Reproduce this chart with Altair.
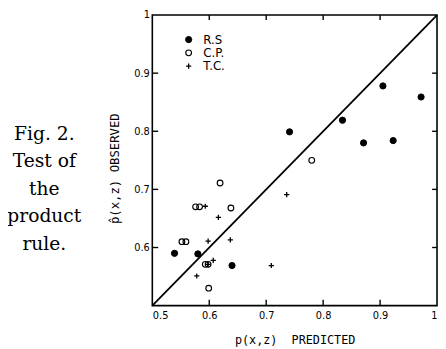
import altair as alt
import pandas as pd

# ---- data ----
series = ["R.S", "C.P.", "T.C."]

rs_x = [0.539, 0.580, 0.640, 0.741, 0.834, 0.871, 0.905, 0.923, 0.972]
rs_y = [0.590, 0.589, 0.569, 0.799, 0.819, 0.780, 0.878, 0.784, 0.859]

cp_x = [0.619, 0.576, 0.583, 0.638, 0.552, 0.559, 0.593, 0.598, 0.599, 0.780]
cp_y = [0.711, 0.670, 0.670, 0.668, 0.610, 0.610, 0.571, 0.571, 0.530, 0.750]

tc_x = [0.593, 0.616, 0.598, 0.637, 0.598, 0.607, 0.578, 0.709, 0.736]
tc_y = [0.671, 0.652, 0.611, 0.613, 0.571, 0.578, 0.551, 0.569, 0.691]

diag = [0.5, 1.0]
x_labels = [0.5, 0.6, 0.7, 0.8, 0.9, 1.0]
y_labels = [0.6, 0.7, 0.8, 0.9, 1.0]
inner_ticks = [0.6, 0.7, 0.8, 0.9]

caption = ["Fig. 2.", "Test of", "the", "product", "rule."]
x_title = "p(x,z)\u00a0 PREDICTED"
y_title = "p\u0302(x,z) OBSERVED"

# ---- tables ----
df = pd.concat([
    pd.DataFrame({"x": rs_x, "y": rs_y, "s": series[0]}),
    pd.DataFrame({"x": cp_x, "y": cp_y, "s": series[1]}),
    pd.DataFrame({"x": tc_x, "y": tc_y, "s": series[2]}),
], ignore_index=True)
df_diag = pd.DataFrame({"x": diag, "y": diag})
df_xt = pd.DataFrame({"x": inner_ticks})
df_yt = pd.DataFrame({"y": inner_ticks})
df_one = pd.DataFrame({"a": [1]})

W, H = 290, 296
FONT = "DejaVu Sans"
TFONT = "DejaVu Sans Mono"

xs = alt.Scale(domain=[0.5, 1.0], nice=False, zero=False)
ys = alt.Scale(domain=[0.5, 1.0], nice=False, zero=False)

lbl = "datum.value == 1 ? '1' : format(datum.value, '.1f')"

x_axis = alt.Axis(
    values=x_labels, labelExpr=lbl, domain=False, ticks=False, grid=False,
    labelPadding=5, labelFont=FONT, labelFontSize=10, labelColor="black",
    title=x_title, titleFont=TFONT, titleFontSize=12, titleFontWeight="normal",
    titleColor="black", titlePadding=15)
y_axis = alt.Axis(
    values=y_labels, labelExpr=lbl, domain=False, ticks=False, grid=False,
    labelPadding=3, labelFont=FONT, labelFontSize=10, labelColor="black",
    title=y_title, titleFont=TFONT, titleFontSize=12.5, titleFontWeight="normal",
    titleColor="black", titlePadding=13, titleY=156)

X = alt.X("x:Q", scale=xs, axis=x_axis, title=x_title)
Y = alt.Y("y:Q", scale=ys, axis=y_axis, title=y_title)

points = alt.Chart(df).mark_point(opacity=1, stroke="black").encode(
    x=X, y=Y,
    shape=alt.Shape("s:N", scale=alt.Scale(domain=series,
                    range=["circle", "circle", "M-1,0L1,0M0,-1L0,1"]),
                    legend=alt.Legend(orient="none", legendX=31, legendY=19, title=None,
                                      labelFont=FONT, labelFontSize=12, labelColor="black",
                                      rowPadding=1.5, padding=0, labelOffset=9,
                                      symbolStrokeColor="black")),
    fill=alt.Fill("s:N", scale=alt.Scale(domain=series,
                  range=["black", "transparent", "transparent"])),
    size=alt.Size("s:N", scale=alt.Scale(domain=series, range=[40, 28, 170])),
    strokeWidth=alt.StrokeWidth("s:N", scale=alt.Scale(domain=series,
                                range=[1.0, 1.3, 1.7])),
)

line = alt.Chart(df_diag).mark_line(color="black", strokeWidth=1.8).encode(x=X, y=Y)

tick_style = dict(color="black", strokeWidth=1.4)
top_t = alt.Chart(df_xt).mark_rule(**tick_style).encode(
    x=X, y=alt.value(0), y2=alt.value(5))
bot_t = alt.Chart(df_xt).mark_rule(**tick_style).encode(
    x=X, y=alt.value(H), y2=alt.value(H - 6))
left_t = alt.Chart(df_yt).mark_rule(**tick_style).encode(
    y=Y, x=alt.value(0), x2=alt.value(6))
right_t = alt.Chart(df_yt).mark_rule(**tick_style).encode(
    y=Y, x=alt.value(W), x2=alt.value(W - 5))

cap = alt.Chart(df_one).mark_text(
    text=caption, lineHeight=28, font="DejaVu Serif", fontSize=19,
    align="center", baseline="middle", color="black").encode(
    x=alt.value(-110), y=alt.value(121))

chart = alt.layer(points, line, top_t, bot_t, left_t, right_t, cap).properties(
    width=W, height=H,
    autosize=alt.AutoSizeParams(type="none"),
    padding={"left": 147, "top": 4, "right": 1, "bottom": 40},
    background="white",
).configure_view(stroke="black", strokeWidth=1.6)

chart.save("out.html", embed_options={"renderer": "svg", "actions": False})
